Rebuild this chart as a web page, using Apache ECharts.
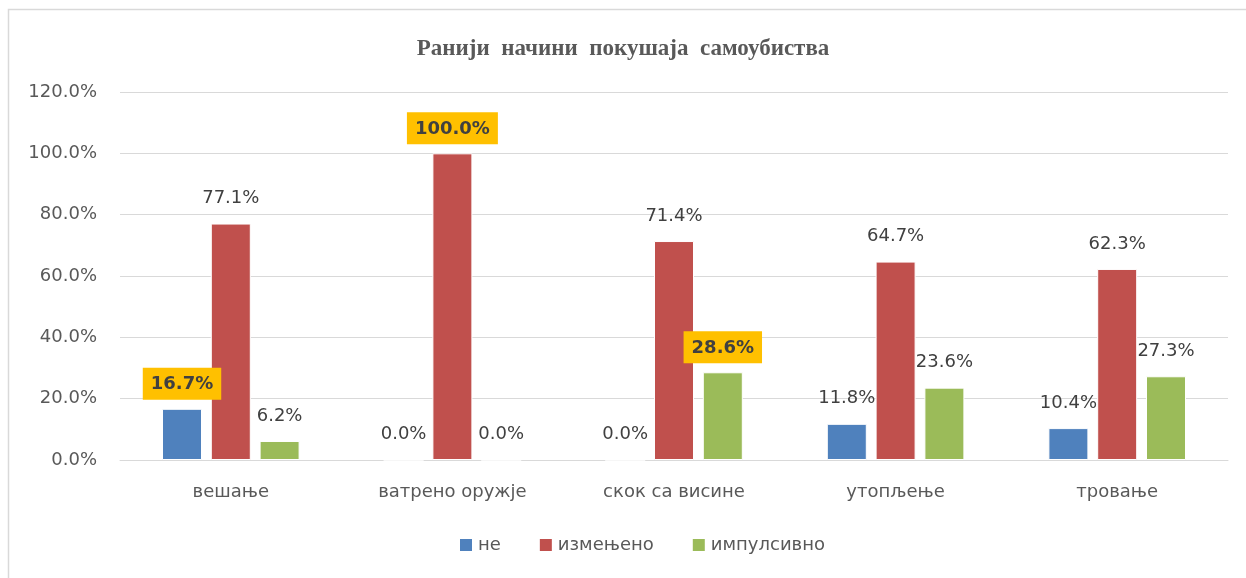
<!DOCTYPE html>
<html>
<head>
<meta charset="utf-8">
<script src="https://cdn.jsdelivr.net/npm/echarts@6/dist/echarts.min.js"></script>
<style>
  html, body { margin: 0; padding: 0; background: #fff; }
  #chart { width: 1246px; height: 578px; }
</style>
</head>
<body>
<div id="chart"></div>
<script>
// подаци
const categories = ['вешање', 'ватрено оружје', 'скок са висине', 'утопљење', 'тровање'];
const seriesNames = ['не', 'измењено', 'импулсивно'];
const neValues = [16.7, 0.0, 0.0, 11.8, 10.4];
const izmenjenoValues = [77.1, 100.0, 71.4, 64.7, 62.3];
const impulsivnoValues = [6.2, 0.0, 28.6, 23.6, 27.3];
// истакнуте вредности: [серија, категорија]
const highlighted = [[0, 0], [1, 1], [2, 2]];

const colors = ['#4f81bd', '#c0504d', '#9bbb59'];

const highlightLabel = {
    backgroundColor: '#ffc000',
    fontWeight: 'bold',
    color: '#404040',
    padding: [8, 8, 6, 8],
    distance: 9
};

function buildData(values, seriesIdx) {
    return values.map((v, i) => {
        const isHl = highlighted.some(h => h[0] === seriesIdx && h[1] === i);
        return isHl ? { value: v, label: highlightLabel } : v;
    });
}

const chart = echarts.init(document.getElementById('chart'));

const option = {
    animation: false,
    color: colors,
    title: {
        text: 'Ранији  начини  покушаја  самоубиства',
        left: 'center',
        top: 33,
        textStyle: {
            fontFamily: 'Liberation Serif',
            fontSize: 23,
            fontWeight: 'bold',
            color: '#595959'
        }
    },
    graphic: [{
        type: 'rect',
        shape: { x: 8.5, y: 9.5, width: 1300, height: 600 },
        style: { fill: 'none', stroke: '#d9d9d9', lineWidth: 1.5 },
        silent: true
    }],
    legend: {
        bottom: 19,
        left: 453,
        itemWidth: 14,
        itemHeight: 14,
        itemGap: 37,
        icon: 'rect',
        textStyle: { fontFamily: 'DejaVu Sans', fontSize: 18, color: '#595959' },
        data: seriesNames
    },
    grid: { left: 120, right: 18, top: 92, bottom: 118 },
    xAxis: {
        type: 'category',
        data: categories,
        axisLine: { lineStyle: { color: '#d9d9d9' } },
        axisTick: { show: false },
        axisLabel: { fontFamily: 'DejaVu Sans', fontSize: 18, color: '#595959', margin: 23 }
    },
    yAxis: {
        type: 'value',
        min: 0,
        max: 120,
        interval: 20,
        axisLine: { show: false },
        axisTick: { show: false },
        splitLine: { lineStyle: { color: '#d9d9d9' } },
        axisLabel: {
            fontFamily: 'DejaVu Sans',
            fontSize: 18,
            color: '#595959',
            margin: 23,
            formatter: v => v.toFixed(1) + '%'
        }
    },
    series: [neValues, izmenjenoValues, impulsivnoValues].map((vals, idx) => ({
        name: seriesNames[idx],
        type: 'bar',
        barWidth: 40,
        barGap: '22%',
        data: buildData(vals, idx),
        itemStyle: { borderColor: '#ffffff', borderWidth: 1 },
        label: {
            show: true,
            position: 'top',
            distance: 16,
            fontFamily: 'DejaVu Sans',
            fontSize: 18,
            color: '#404040',
            formatter: p => p.value.toFixed(1) + '%'
        }
    }))
};

chart.setOption(option);
</script>
</body>
</html>
